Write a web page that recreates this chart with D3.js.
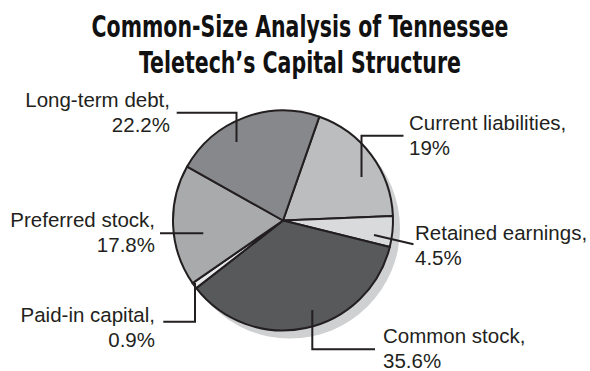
<!DOCTYPE html>
<html>
<head>
<meta charset="utf-8">
<script src="https://cdn.jsdelivr.net/npm/d3@7"></script>
<style>
  html, body { margin: 0; padding: 0; background: #fff; }
  svg { display: block; }
</style>
</head>
<body>
<svg id="chart" width="590" height="371"></svg>
<script>
// Capital structure components, clockwise from just past 12 o'clock
const categories = ["Current liabilities", "Retained earnings", "Common stock",
                    "Paid-in capital", "Preferred stock", "Long-term debt"];
const percents = [19, 4.5, 35.6, 0.9, 17.8, 22.2];
const valueLabels = ["19%", "4.5%", "35.6%", "0.9%", "17.8%", "22.2%"];
const sliceColors = ["#bcbdbf", "#d9dadb", "#58595b", "#e8e9ea", "#a9aaac", "#87888b"];
const titleLines = ["Common-Size Analysis of Tennessee", "Teletech\u2019s Capital Structure"];

const svg = d3.select("#chart");
const cx = 283, cy = 220.5, R = 110;
const ink = "#231f20";
const labelFont = "'Liberation Sans', Arial, sans-serif";

// Title: bold face squeezed horizontally into a condensed look
const titleWidths = [417, 322];
const titleBaselines = [37, 73];
titleLines.forEach((t, i) => {
  const txt = svg.append("text")
    .attr("x", 0).attr("y", 0)
    .attr("text-anchor", "middle")
    .attr("font-family", "'Liberation Sans Narrow', 'DejaVu Sans Condensed', sans-serif")
    .attr("font-weight", "bold")
    .attr("font-size", 31)
    .attr("fill", "#111")
    .text(t);
  const natural = txt.node().getComputedTextLength();
  const sx = titleWidths[i] / natural;
  txt.attr("transform", `translate(300,${titleBaselines[i]}) scale(${sx},1)`);
});

const data = categories.map((c, i) => ({ name: c, value: percents[i], label: valueLabels[i], color: sliceColors[i] }));

const start = 19.3 * Math.PI / 180;
const pie = d3.pie().sort(null).value(d => d.value)
  .startAngle(start).endAngle(start + 2 * Math.PI);
const arcs = pie(data);
const arc = d3.arc().innerRadius(0).outerRadius(R);

// Drop shadow behind the pie
svg.append("circle")
  .attr("cx", cx + 7).attr("cy", cy + 8).attr("r", R)
  .attr("fill", "#cfd0d1");

const g = svg.append("g").attr("transform", `translate(${cx},${cy})`);
g.selectAll("path.slice")
  .data(arcs)
  .join("path")
  .attr("class", "slice")
  .attr("d", arc)
  .attr("fill", d => d.data.color)
  .attr("stroke", ink)
  .attr("stroke-width", 2)
  .attr("stroke-linejoin", "round");

// Leader lines (elbow polylines) and label placement per slice
const leaders = {
  "Current liabilities": { pts: [[361.5, 177], [361.5, 135.7], [403.5, 135.7]], x: 409, y: 130, anchor: "start" },
  "Retained earnings":  { pts: [[374, 235], [413.5, 244.3]], x: 415, y: 240, anchor: "start" },
  "Common stock":       { pts: [[312.3, 310], [312.3, 349.3], [375, 349.3]], x: 383, y: 343, anchor: "start" },
  "Paid-in capital":    { pts: [[195, 283], [195, 321.7], [163.3, 321.7]], x: 155, y: 321.7, anchor: "end" },
  "Preferred stock":    { pts: [[203.3, 233.3], [160, 233.3]], x: 155, y: 226.7, anchor: "end" },
  "Long-term debt":     { pts: [[236.5, 142], [236.5, 112.7], [176.7, 112.7]], x: 170, y: 106.7, anchor: "end" }
};

const line = d3.line();
data.forEach(d => {
  const L = leaders[d.name];
  svg.append("path")
    .attr("d", line(L.pts))
    .attr("fill", "none")
    .attr("stroke", ink)
    .attr("stroke-width", 2);
  const t = svg.append("text")
    .attr("x", L.x).attr("y", L.y)
    .attr("text-anchor", L.anchor)
    .attr("font-family", labelFont)
    .attr("font-size", 20.5)
    .attr("fill", ink);
  t.append("tspan").attr("x", L.x).text(d.name + ",");
  t.append("tspan").attr("x", L.x).attr("dy", 25).text(d.label);
});
</script>
</body>
</html>
